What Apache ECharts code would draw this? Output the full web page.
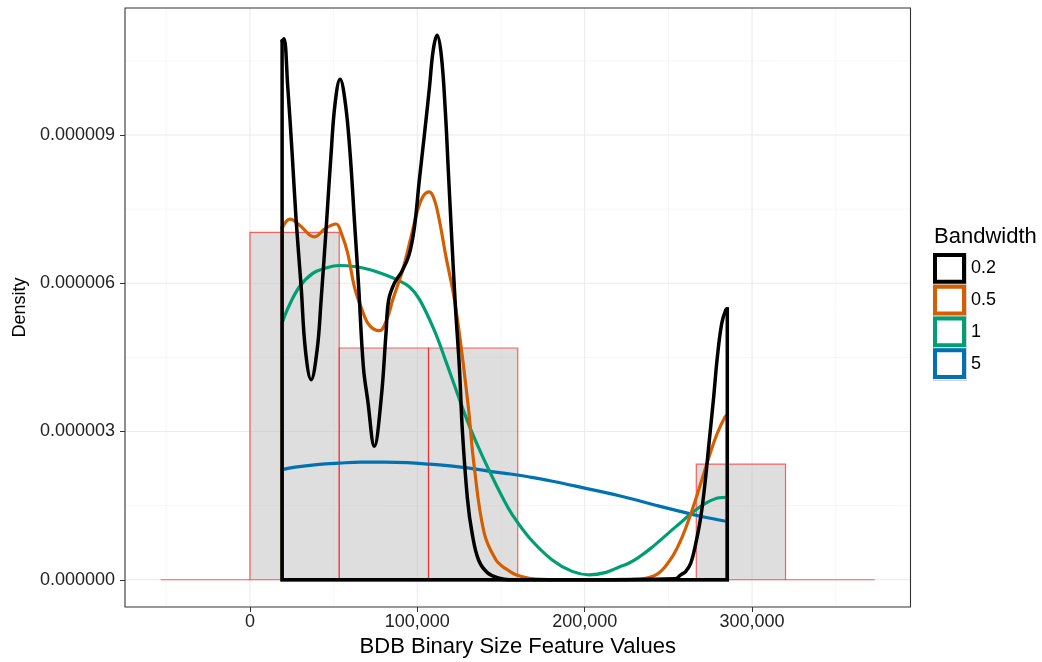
<!DOCTYPE html>
<html>
<head>
<meta charset="utf-8">
<script src="https://cdn.jsdelivr.net/npm/echarts@6/dist/echarts.min.js"></script>
<style>
html,body{margin:0;padding:0;background:#ffffff;}
#chart{width:1042px;height:662px;}
</style>
</head>
<body>
<div id="chart"></div>
<script>
// ---------- data ----------
const binStarts  = [-53333, 0, 53333, 106667, 160000, 213333, 266667, 320000];
const binEnds    = [0, 53333, 106667, 160000, 213333, 266667, 320000, 373333];
const binDensity = [0, 7.03e-6, 4.69e-6, 4.69e-6, 0, 0, 2.34e-6, 0];

const xMajorTicks = [0, 100000, 200000, 300000];
const xMinorTicks = [-50000, 50000, 150000, 250000, 350000];
const yMajorTicks = [0, 3e-6, 6e-6, 9e-6];
const yMinorTicks = [1.5e-6, 4.5e-6, 7.5e-6, 10.5e-6];

const bandwidths = ['0.2', '0.5', '1', '5'];

const bw02X = [19200,20300,22570,25190,27580,30570,33130,36540,40120,42510,45850,48480,50860,53850,57010,59820,62390,64950,67760,70330,74330,78330,81310,82860,86270,90900,95000,98200,101200,104200,107200,109500,111800,114300,116700,118500,120300,122700,125100,127000,130000,132700,136600,142000,148900,155000,200000,254000,257400,260400,263400,266400,269400,271900,274300,276900,279300,281900,284300,285200];
const bw02Y = [10.90e-6,10.95e-6,9.98e-6,8.63e-6,7.28e-6,5.93e-6,4.65e-6,4.05e-6,4.65e-6,5.66e-6,7.28e-6,8.63e-6,9.64e-6,10.13e-6,9.64e-6,8.63e-6,7.28e-6,5.93e-6,4.31e-6,3.64e-6,2.70e-6,3.64e-6,5.00e-6,5.66e-6,6.00e-6,6.25e-6,6.57e-6,7.12e-6,8.09e-6,9.00e-6,9.95e-6,10.72e-6,11.02e-6,10.62e-6,9.50e-6,8.29e-6,7.08e-6,5.56e-6,4.31e-6,2.97e-6,1.62e-6,0.95e-6,0.40e-6,0.14e-6,0.03e-6,0,0,0.02e-6,0.10e-6,0.17e-6,0.34e-6,0.74e-6,1.28e-6,1.96e-6,2.77e-6,3.64e-6,4.52e-6,5.19e-6,5.46e-6,5.48e-6];

const bw05X = [19200,24000,29550,38500,45070,51460,54600,58390,62390,66570,71340,77310,82090,85250,91220,96240,100180,103600,107160,110200,113130,116710,122700,130000,134000,140000,147000,150900,153900,158900,166900,184800,220600,236500,244500,252400,258400,264300,269400,274300,279300,283900,285200];
const bw05Y = [7.12e-6,7.30e-6,7.18e-6,6.94e-6,7.11e-6,7.20e-6,7.01e-6,6.61e-6,5.93e-6,5.50e-6,5.15e-6,5.04e-6,5.30e-6,5.66e-6,6.27e-6,6.94e-6,7.48e-6,7.77e-6,7.85e-6,7.69e-6,7.28e-6,6.61e-6,5.56e-6,3.64e-6,2.29e-6,0.94e-6,0.40e-6,0.27e-6,0.20e-6,0.10e-6,0.03e-6,0,0,0.03e-6,0.14e-6,0.47e-6,0.88e-6,1.42e-6,1.96e-6,2.49e-6,2.97e-6,3.30e-6,3.33e-6];

const bw1X = [19200,22200,29550,37500,44500,53400,62400,71300,80300,87300,95200,101200,110100,117300,123800,131000,137600,144100,150700,156700,166900,180600,192500,202700,212800,220600,226600,232500,238500,244500,250500,256400,264400,272400,280300,285200];
const bw1Y = [5.19e-6,5.46e-6,5.93e-6,6.20e-6,6.30e-6,6.36e-6,6.34e-6,6.28e-6,6.18e-6,6.08e-6,5.93e-6,5.68e-6,5.05e-6,4.40e-6,3.78e-6,3.12e-6,2.60e-6,2.13e-6,1.68e-6,1.32e-6,0.85e-6,0.40e-6,0.17e-6,0.10e-6,0.15e-6,0.26e-6,0.34e-6,0.46e-6,0.61e-6,0.78e-6,0.96e-6,1.13e-6,1.36e-6,1.55e-6,1.66e-6,1.67e-6];

const bw5X = [19200,27000,40000,53200,66000,80300,94000,107200,121000,131000,142400,155500,167000,180000,200600,220600,232500,244500,256400,268400,285200];
const bw5Y = [2.23e-6,2.28e-6,2.33e-6,2.36e-6,2.38e-6,2.38e-6,2.37e-6,2.34e-6,2.30e-6,2.26e-6,2.20e-6,2.14e-6,2.08e-6,2.00e-6,1.85e-6,1.70e-6,1.60e-6,1.49e-6,1.39e-6,1.29e-6,1.18e-6];

// ---------- styling ----------
const FONT = "'Liberation Sans', Arial, Helvetica, sans-serif";
const colors = {'0.2':'#000000','0.5':'#D55E00','1':'#009E73','5':'#0072B2'};

function vLines(color, width) {
  return function (params, api) {
    const cs = params.coordSys;
    const x = api.coord([api.value(0), 0])[0];
    return {type:'line', silent:true,
      shape:{x1:x, y1:cs.y, x2:x, y2:cs.y + cs.height},
      style:{stroke:color, lineWidth:width}};
  };
}
function hLines(color, width) {
  return function (params, api) {
    const cs = params.coordSys;
    const y = api.coord([0, api.value(1)])[1];
    return {type:'line', silent:true,
      shape:{x1:cs.x, y1:y, x2:cs.x + cs.width, y2:y},
      style:{stroke:color, lineWidth:width}};
  };
}

function curveSeries(name, xs, ys, width, z) {
  const c = colors[name];
  return {type:'line', name:name, z:z, silent:true, animation:false,
    data: xs.map((x, i) => [x, ys[i]]),
    symbol:'none', showSymbol:false, smooth:0.4,
    lineStyle:{color:c, width:width, cap:'round', join:'round'},
    itemStyle:{color:c}};
}
function outlineSeries(name, xs, ys, width, z) {
  const c = colors[name];
  const n = xs.length;
  return {type:'line', name:name, z:z, silent:true, animation:false,
    data:[[xs[0], ys[0]], [xs[0], 0], [xs[n-1], 0], [xs[n-1], ys[n-1]]],
    symbol:'none', showSymbol:false,
    lineStyle:{color:c, width:width, join:'miter', cap:'square'},
    itemStyle:{color:c}};
}

const chart = echarts.init(document.getElementById('chart'), null, {renderer:'canvas'});

const option = {
  animation:false,
  backgroundColor:'#ffffff',
  textStyle:{fontFamily:FONT},
  grid:{left:125, right:131.5, top:8, bottom:55, show:false, outerBoundsMode:'none', containLabel:false},
  title:{text:'Bandwidth', left:934, top:226, padding:0,
    textStyle:{fontFamily:FONT, fontSize:22, fontWeight:'normal', color:'#000'}},
  legend:{
    data: bandwidths, orient:'vertical', left:933, top:253, padding:0,
    itemWidth:33, itemHeight:31, itemGap:1, selectedMode:false,
    icon:'path://M2,2H31V29H2Z M5.5,5.5V25.5H27.5V5.5Z',
    itemStyle:{borderWidth:0},
    textStyle:{fontFamily:FONT, fontSize:18, color:'#000', padding:[0,0,0,0]}
  },
  graphic: bandwidths.map((b, i) => ({
    type:'rect', left:933, top:253 + i * 32, silent:true, z:-1,
    shape:{width:33, height:31},
    style:{fill:'#ffffff', stroke:'#d3d3d3', lineWidth:1}
  })),
  xAxis:{
    type:'value', min:-74667, max:394667,
    name:'BDB Binary Size Feature Values', nameLocation:'middle', nameGap:29,
    nameTextStyle:{fontFamily:FONT, fontSize:22, color:'#000'},
    axisLine:{show:false, onZero:false},
    axisTick:{show:true, customValues:xMajorTicks, length:5, lineStyle:{color:'#333', width:1}},
    axisLabel:{customValues:xMajorTicks, margin:6, fontFamily:FONT, fontSize:18, color:'#222',
      formatter:v => Number(v).toLocaleString('en-US')},
    splitLine:{show:false}, minorSplitLine:{show:false}
  },
  yAxis:{
    type:'value', min:-0.551e-6, max:11.571e-6,
    name:'Density', nameLocation:'middle', nameGap:96,
    nameTextStyle:{fontFamily:FONT, fontSize:18, color:'#000'},
    axisLine:{show:false, onZero:false},
    axisTick:{show:true, customValues:yMajorTicks, length:5, lineStyle:{color:'#333', width:1}},
    axisLabel:{customValues:yMajorTicks, margin:10, fontFamily:FONT, fontSize:18, color:'#222',
      formatter:v => Number(v).toFixed(6)},
    splitLine:{show:false}
  },
  series:[
    {type:'custom', name:'minorX', z:1, silent:true, renderItem:vLines('#f4f4f4', 0.8),
      data:xMinorTicks.map(v => [v, 0])},
    {type:'custom', name:'minorY', z:1, silent:true, renderItem:hLines('#f4f4f4', 0.8),
      data:yMinorTicks.map(v => [0, v])},
    {type:'custom', name:'majorX', z:1, silent:true, renderItem:vLines('#ebebeb', 1.1),
      data:xMajorTicks.map(v => [v, 0])},
    {type:'custom', name:'majorY', z:1, silent:true, renderItem:hLines('#ebebeb', 1.1),
      data:yMajorTicks.map(v => [0, v])},
    {type:'custom', name:'histogram', z:2, silent:true,
      encode:{x:[0,1], y:2},
      data: binStarts.map((s, i) => [s, binEnds[i], binDensity[i]]),
      renderItem: function (params, api) {
        const p0 = api.coord([api.value(0), api.value(2)]);
        const p1 = api.coord([api.value(1), 0]);
        return {type:'rect', silent:true,
          shape:{x:p0[0], y:p0[1], width:p1[0] - p0[0], height:p1[1] - p0[1]},
          style:{fill:'rgba(190,190,190,0.5)', stroke:'rgba(255,0,0,0.6)', lineWidth:1.2}};
      }},
    curveSeries('5', bw5X, bw5Y, 3.2, 3),
    outlineSeries('5', bw5X, bw5Y, 3.2, 3),
    curveSeries('1', bw1X, bw1Y, 3.2, 4),
    outlineSeries('1', bw1X, bw1Y, 3.2, 4),
    curveSeries('0.5', bw05X, bw05Y, 3.2, 5),
    outlineSeries('0.5', bw05X, bw05Y, 3.2, 5),
    curveSeries('0.2', bw02X, bw02Y, 3.5, 6),
    outlineSeries('0.2', bw02X, bw02Y, 3.5, 6),
    {type:'custom', name:'panelBorder', z:10, silent:true, data:[[0, 0]],
      renderItem: function (params, api) {
        const cs = params.coordSys;
        return {type:'rect', silent:true,
          shape:{x:cs.x, y:cs.y, width:cs.width, height:cs.height},
          style:{fill:null, stroke:'#333333', lineWidth:1.1}};
      }}
  ]
};
chart.setOption(option);
</script>
</body>
</html>
